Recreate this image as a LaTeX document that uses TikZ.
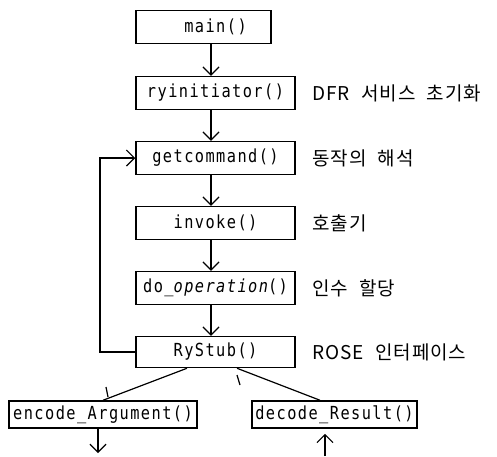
\documentclass[tikz,border=0pt]{standalone}
\usepackage{fontspec}
\usetikzlibrary{arrows.meta}
\newfontfamily\monof{DejaVu Sans Mono}[FakeStretch=0.85,LetterSpace=8]
\newfontfamily\korf{Noto Sans CJK KR}[LetterSpace=5,WordSpace=2.2]
\begin{document}
\begin{tikzpicture}[x=1pt,y=-1pt,
  box/.style={draw, line width=1.5pt, minimum width=159pt, minimum height=33pt, inner sep=0pt,
    font=\monof\fontsize{18}{20}\selectfont},
  lab/.style={anchor=west, inner sep=0pt, font=\korf\fontsize{19}{22}\selectfont},
  arr/.style={line width=1.2pt, -{Straight Barb[length=8pt,width=16pt]}},
  ln/.style={line width=1.2pt}]
\useasboundingbox (0,0) rectangle (497,456);
\fill[white] (0,0) rectangle (497,456);
\coordinate (ax) at (211,0);
\coordinate (lp) at (100,0);
\node[box, minimum width=135pt] (main) at (203.5,27) {\hspace*{24pt}main()};
\node[box] (ryin) at (215.5,93) {ryinitiator()};
\node[box] (getc) at (215.5,158) {getcommand()};
\node[box] (invk) at (215.5,223) {invoke()};
\node[box] (doop) at (215.5,288) {do\_{\itshape operation}()};
\node[box, minimum height=31pt] (ryst) at (215.5,352) {RyStub()};
\node[box, minimum width=188pt, minimum height=27pt] (enc) at (103,414.5) {encode\_Argument()};
\node[box, minimum width=165pt, minimum height=27pt] (dec) at (334.5,414.5) {decode\_Result()};
\node[lab] (l1) at (312,93) {DFR 서비스 초기화};
\node[lab] (l2) at (312,158) {동작의 해석};
\node[lab] (l3) at (312,223) {호출기};
\node[lab] (l4) at (312,288) {인수 할당};
\node[lab] (l5) at (312,352) {ROSE 인터페이스};
\draw[arr] (main.south -| ax) -- (ryin.north -| ax);
\draw[arr] (ryin.south -| ax) -- (getc.north -| ax);
\draw[arr] (getc.south -| ax) -- (invk.north -| ax);
\draw[arr] (invk.south -| ax) -- (doop.north -| ax);
\draw[arr] (doop.south -| ax) -- (ryst.north -| ax);
\draw[arr] (ryst.west) -- (ryst.west -| lp) -- (getc.west -| lp) -- (getc.west);
\draw[ln] ([xshift=-28.5pt]ryst.south) -- (enc.north);
\draw[ln] ([xshift=21.5pt]ryst.south) -- ([xshift=-14.5pt]dec.north);
\coordinate (t1a) at (106,387);
\coordinate (t1b) at (108,397);
\coordinate (t2a) at (237,375);
\coordinate (t2b) at (240,385);
\draw[ln] (t1a) -- (t1b);
\draw[ln] (t2a) -- (t2b);
\coordinate (ea) at (98,453);
\coordinate (da) at (325,456);
\draw[arr] (enc.south -| ea) -- (ea);
\draw[arr] (da) -- ([yshift=-5pt]dec.south -| da);
\end{tikzpicture}
\end{document}
